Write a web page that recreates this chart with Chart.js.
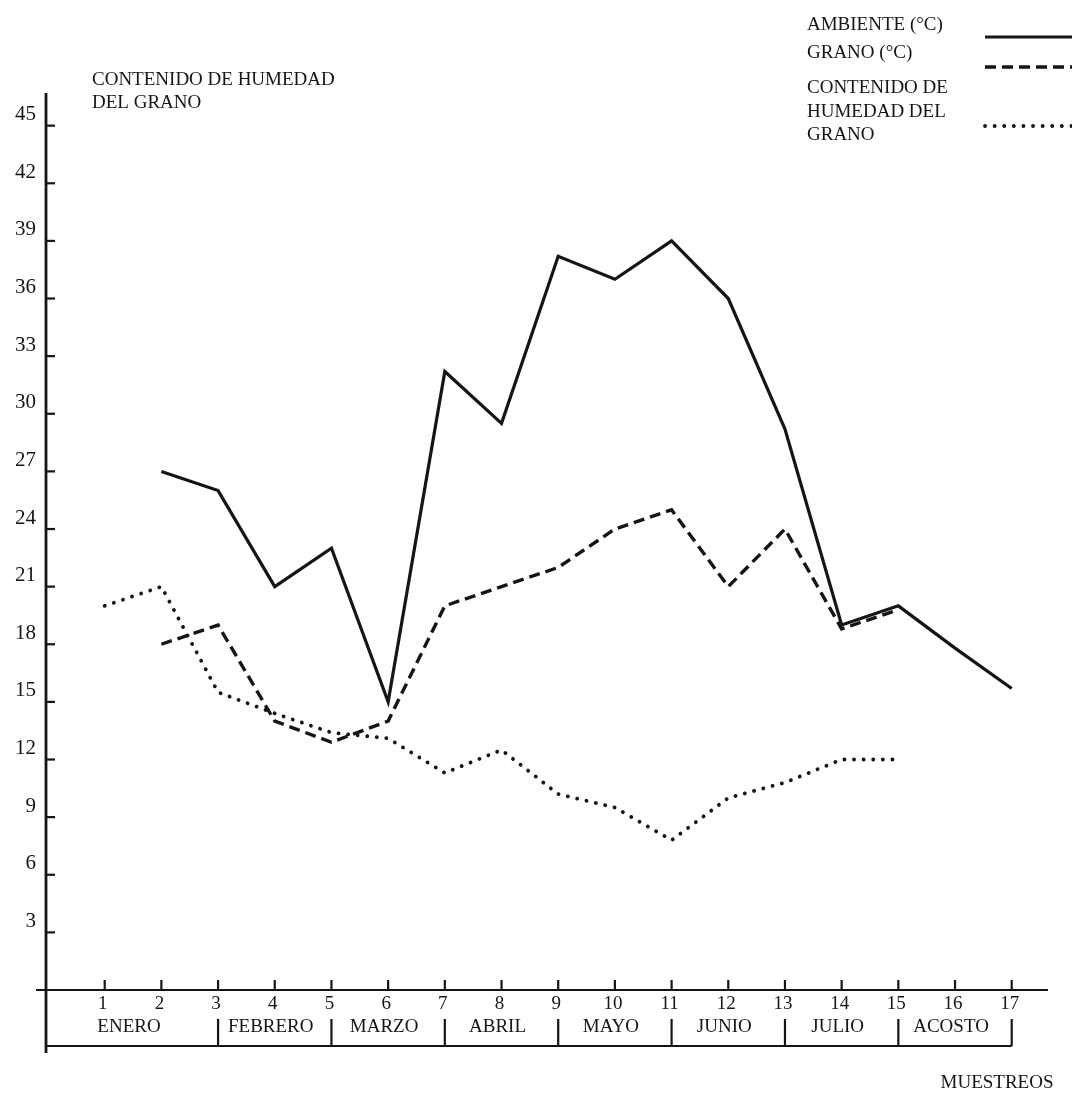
<!DOCTYPE html>
<html lang="es">
<head>
<meta charset="utf-8">
<title>Temperatura y humedad del grano</title>
<script src="https://cdn.jsdelivr.net/npm/chart.js@4.4.1/dist/chart.umd.min.js"></script>
<style>
    html, body { margin: 0; padding: 0; background: #fff; }
    #grafico { display: block; }
</style>
</head>
<body>
<canvas id="grafico" width="1072" height="1093"></canvas>
<script>
// Número de muestreo (eje X)
const muestreos = [1, 2, 3, 4, 5, 6, 7, 8, 9, 10, 11, 12, 13, 14, 15, 16, 17];

// Temperatura ambiente (°C)
const ambiente = [null, 27, 26, 21, 23, 15, 32.2, 29.5, 38.2, 37, 39, 36, 29.2, 19, 20, 17.8, 15.7];

// Temperatura del grano (°C)
const grano = [null, 18, 19, 14, 12.9, 14, 20, 21, 22, 24, 25, 21, 24, 18.8, 19.8, null, null];

// Contenido de humedad del grano
const humedad = [20, 21, 15.5, 14.4, 13.4, 13.1, 11.3, 12.5, 10.2, 9.5, 7.8, 10, 10.8, 12, 12, null, null];

// Marcas del eje Y
const marcasY = [3, 6, 9, 12, 15, 18, 21, 24, 27, 30, 33, 36, 39, 42, 45];

// Meses y muestreos donde se separan
const meses = ['ENERO', 'FEBRERO', 'MARZO', 'ABRIL', 'MAYO', 'JUNIO', 'JULIO', 'ACOSTO'];
const limitesMeses = [0, 3, 5, 7, 9, 11, 13, 15, 17];

const FUENTE = '19px "Liberation Serif", "DejaVu Serif", serif';
const FUENTE_Y = '21px "Liberation Serif", "DejaVu Serif", serif';
const TINTA = '#151515';

function puntos(valores) {
    return muestreos.map((m, i) => ({ x: m, y: valores[i] }));
}

const series = [
    { label: 'AMBIENTE (°C)', data: puntos(ambiente), borderWidth: 3.2, borderDash: [] },
    { label: 'GRANO (°C)', data: puntos(grano), borderWidth: 3.4, borderDash: [11, 6] },
    { label: 'CONTENIDO DE HUMEDAD DEL GRANO', data: puntos(humedad), borderWidth: 3.8, borderDash: [0.1, 9.5] }
];

// Ejes, rótulos, meses y leyenda dibujados a mano sobre las escalas de Chart.js
const ejesMuestreo = {
    id: 'ejesMuestreo',
    beforeDatasetsDraw(chart) {
        const ctx = chart.ctx;
        const sx = chart.scales.x;
        const sy = chart.scales.y;
        const x0 = sx.getPixelForValue(0) - 2;
        const y0 = sy.getPixelForValue(0);

        ctx.save();
        ctx.strokeStyle = TINTA;
        ctx.fillStyle = TINTA;
        ctx.lineCap = 'butt';

        // eje vertical
        ctx.lineWidth = 2.8;
        ctx.beginPath();
        ctx.moveTo(x0, chart.chartArea.top);
        ctx.lineTo(x0, 1053);
        ctx.stroke();

        // marcas y números del eje Y
        ctx.lineWidth = 2.2;
        ctx.font = FUENTE_Y;
        ctx.textAlign = 'right';
        ctx.textBaseline = 'middle';
        marcasY.forEach(v => {
            const py = sy.getPixelForValue(v);
            ctx.beginPath();
            ctx.moveTo(x0, py);
            ctx.lineTo(x0 + 9, py);
            ctx.stroke();
            ctx.fillText(String(v), 36, py - 11);
        });

        // eje horizontal
        ctx.lineWidth = 2.2;
        ctx.beginPath();
        ctx.moveTo(36, y0);
        ctx.lineTo(sx.getPixelForValue(sx.max), y0);
        ctx.stroke();

        // marcas y números de muestreo
        ctx.font = FUENTE;
        ctx.textAlign = 'center';
        muestreos.forEach(m => {
            const px = sx.getPixelForValue(m);
            ctx.beginPath();
            ctx.moveTo(px, y0);
            ctx.lineTo(px, y0 - 10);
            ctx.stroke();
            ctx.fillText(String(m), px - 2, y0 + 14);
        });

        // franja de meses
        const yMes = y0 + 37;
        const yBase = y0 + 56;
        const xFin = sx.getPixelForValue(limitesMeses[limitesMeses.length - 1]);
        ctx.beginPath();
        ctx.moveTo(x0, yBase);
        ctx.lineTo(xFin, yBase);
        ctx.stroke();
        limitesMeses.slice(1).forEach(m => {
            const px = sx.getPixelForValue(m);
            ctx.beginPath();
            ctx.moveTo(px, yBase - 27);
            ctx.lineTo(px, yBase);
            ctx.stroke();
        });
        meses.forEach((mes, i) => {
            const centro = (limitesMeses[i] + limitesMeses[i + 1]) / 2;
            ctx.fillText(mes, sx.getPixelForValue(centro) - 4, yMes);
        });

        ctx.fillText('MUESTREOS', 997, 1083);

        // título del eje Y
        ctx.textAlign = 'left';
        ctx.fillText('CONTENIDO DE HUMEDAD', 92, 80);
        ctx.fillText('DEL GRANO', 92, 103);

        // leyenda
        const textosLeyenda = [
            { lineas: ['AMBIENTE (°C)'], ys: [25], yLinea: 37 },
            { lineas: ['GRANO (°C)'], ys: [53], yLinea: 67 },
            { lineas: ['CONTENIDO DE', 'HUMEDAD DEL', 'GRANO'], ys: [88, 112, 135], yLinea: 126 }
        ];
        textosLeyenda.forEach((item, i) => {
            item.lineas.forEach((t, j) => ctx.fillText(t, 807, item.ys[j]));
            const ds = chart.data.datasets[i];
            ctx.save();
            ctx.lineWidth = ds.borderWidth;
            ctx.lineCap = ds.borderCapStyle || 'butt';
            ctx.setLineDash(ds.borderDash);
            ctx.beginPath();
            ctx.moveTo(985, item.yLinea);
            ctx.lineTo(1072, item.yLinea);
            ctx.stroke();
            ctx.restore();
        });

        ctx.restore();
    }
};

new Chart(document.getElementById('grafico'), {
    type: 'line',
    data: {
        datasets: series.map(s => ({
            label: s.label,
            data: s.data,
            borderColor: TINTA,
            borderWidth: s.borderWidth,
            borderDash: s.borderDash,
            borderCapStyle: s.borderDash.length && s.borderDash[0] < 1 ? 'round' : 'butt',
            borderJoinStyle: 'miter',
            fill: false,
            spanGaps: false,
            pointRadius: 0,
            tension: 0
        }))
    },
    options: {
        responsive: false,
        animation: false,
        devicePixelRatio: 1,
        layout: { padding: { left: 48, right: 24, top: 93, bottom: 103 } },
        scales: {
            x: { type: 'linear', min: 0, max: 17.64, display: false },
            y: { type: 'linear', min: 0, max: 46.7, display: false }
        },
        plugins: {
            legend: { display: false },
            tooltip: { enabled: false }
        }
    },
    plugins: [ejesMuestreo]
});
</script>
</body>
</html>
